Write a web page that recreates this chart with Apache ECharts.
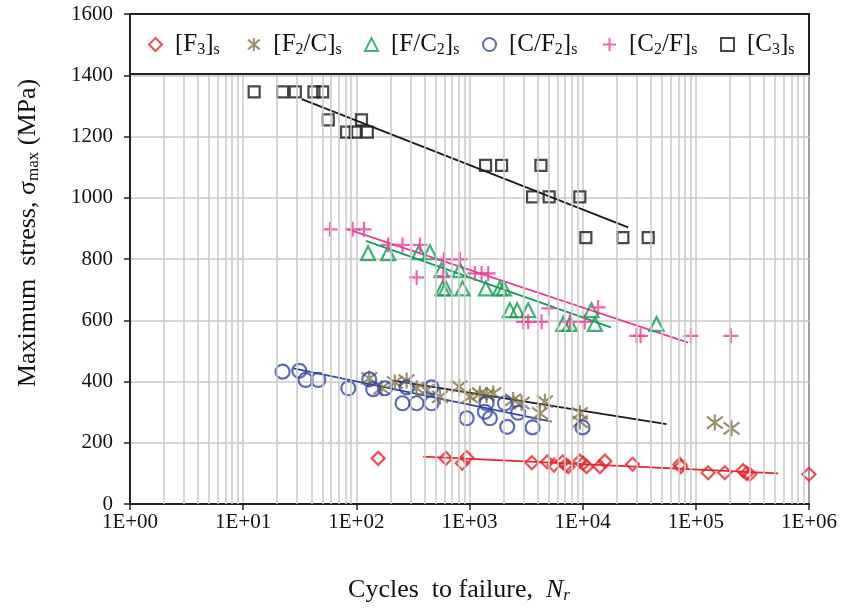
<!DOCTYPE html>
<html><head><meta charset="utf-8">
<script src="https://cdn.jsdelivr.net/npm/echarts@6/dist/echarts.min.js"></script>
<style>html,body{margin:0;padding:0;background:#fff}#c{width:842px;height:609px}</style>
</head><body><div id="c"></div>
<script>
const FONT = '"Liberation Serif","Times New Roman",serif';

const seriesNames = ['F3', 'F2/C', 'F/C2', 'C/F2', 'C2/F', 'C3'];
const legendLabels = ['[F{s|3}]{s|s}', '[F{s|2}/C]{s|s}', '[F/C{s|2}]{s|s}', '[C/F{s|2}]{s|s}', '[C{s|2}/F]{s|s}', '[C{s|3}]{s|s}'];
const xTickLabels = ['1E+00', '1E+01', '1E+02', '1E+03', '1E+04', '1E+05', '1E+06'];
const yTickValues = [0, 200, 400, 600, 800, 1000, 1200, 1400, 1600];

const dataF3 = [[156,149],[619,149],[863,133],[943,152],[3558,135],[4862,137],[5572,127],[6642,137],[7112,127],[7449,122],[9440,140],[10120,133],[10820,122],[14190,122],[15710,140],[27600,130],[72300,130],[73700,122],[128500,102],[180300,102],[262000,109],[280500,100],[300000,97],[1000000,97]];
const dataF2C = [[130,410],[167,378],[219,397],[278,403],[341,378],[417,372],[548,350],[811,383],[1009,350],[1236,360],[1416,356],[1622,361],[2432,340],[2884,329],[4188,296],[4637,334],[9440,296],[9440,269],[147200,266],[206600,247]];
const dataFC2 = [[127,819],[191,819],[359,822],[447,822],[566,764],[822,764],[578,704],[618,704],[868,704],[1395,704],[1857,704],[2014,704],[2274,633],[2637,633],[3300,633],[6725,588],[7711,588],[11970,633],[12820,588],[44950,588]];
const dataCF2 = [[22.3,432],[31.3,435],[35.6,405],[46.1,405],[84.9,378],[130,407],[141,375],[179,378],[256,329],[341,329],[462,329],[278,381],[462,381],[943,280],[1416,329],[1368,301],[1514,280],[2055,329],[2154,252],[2692,298],[3610,250],[9975,250]];
const dataC2F = [[58.5,897],[92.7,897],[117,897],[191,846],[256,846],[365,846],[341,740],[594,799],[822,799],[586,744],[1116,753],[1279,753],[1463,753],[3000,595],[3300,595],[4333,595],[5026,639],[7711,595],[10450,595],[13700,642],[30000,549],[32500,549],[90400,549],[203900,549]];
const dataC3 = [[12.5,1346],[22.3,1346],[28.9,1346],[42.2,1346],[50.4,1346],[56.5,1254],[111,1254],[82,1214],[97.8,1214],[125,1214],[1387,1106],[1922,1106],[4277,1106],[3607,1003],[5058,1003],[9440,1003],[10670,870],[22650,870],[37940,870]];

const trendF3 = [[390,155],[533000,100]];
const trendF2C = [[212,403],[55080,261]];
const trendFC2 = [[121.6,859],[17740,577]];
const trendCF2 = [[27.7,443],[5310,269]];
const trendC2F = [[79.3,900],[85500,527]];
const trendC3 = [[32.9,1322],[25230,903]];

const minorX = [];
for (let k = 0; k < 6; k++) for (let m = 2; m <= 9; m++) minorX.push(m * Math.pow(10, k));

const colors = ['#e8262b', '#857546', '#0fa055', '#3447a5', '#ec3f96', '#1a1a1a'];
const trendColors = ['#e8262b', '#1a1a1a', '#0fa055', '#3447a5', '#ec3f96', '#1a1a1a'];
const symbols = ['diamond', 'path://M0,-1L0,1M-0.9,-0.75L0.9,0.75M-0.9,0.75L0.9,-0.75', 'triangle', 'circle', 'path://M0,-1L0,1M-1,0L1,0', 'rect'];
const symbolSizes = [13, 16, 14, 14, 15, 11];
const pointData = [dataF3, dataF2C, dataFC2, dataCF2, dataC2F, dataC3];
const trendData = [trendF3, trendF2C, trendFC2, trendCF2, trendC2F, trendC3];
const legendLefts = [148, 247, 364, 482, 602, 720];

const series = [{
  type: 'line', data: [], z: 1, silent: true,
  markLine: { silent: true, symbol: 'none', label: { show: false }, animation: false,
    lineStyle: { color: '#c8c8c8', width: 1.5, type: 'solid' },
    data: minorX.map(v => ({ xAxis: v })) }
}];
trendData.forEach((d, i) => series.push({
  name: 'trend' + i, type: 'line', data: d, showSymbol: false, z: 3, silent: true,
  lineStyle: { color: trendColors[i], width: 1.8 }
}));
pointData.forEach((d, i) => series.push({
  name: seriesNames[i], type: 'scatter', data: d, z: 4,
  symbol: symbols[i], symbolSize: symbolSizes[i],
  itemStyle: { color: 'rgba(0,0,0,0)', borderColor: colors[i], borderWidth: 2.2 }
}));

const legends = seriesNames.map((n, i) => ({
  data: [n], left: legendLefts[i], top: 32, z: 20, padding: 0,
  itemWidth: 13, itemHeight: 13, selectedMode: false,
  formatter: () => legendLabels[i],
  textStyle: { fontFamily: FONT, fontSize: 25, color: '#111', padding: [0, 0, 0, 8],
    rich: { s: { fontFamily: FONT, fontSize: 16, color: '#111', padding: [11, 0, 0, 0] } } }
}));

const chart = echarts.init(document.getElementById('c'));
chart.setOption({
  animation: false,
  backgroundColor: '#fff',
  grid: { left: 130, right: 33, top: 14, bottom: 105, show: true, borderColor: '#222', borderWidth: 2, backgroundColor: 'transparent' },
  legend: legends,
  xAxis: {
    type: 'log', logBase: 10, min: 1, max: 1000000, interval: 1,
    axisLine: { show: true, lineStyle: { color: '#222', width: 2 } },
    axisTick: { show: true, length: 6, lineStyle: { color: '#222', width: 1.5 } },
    axisLabel: { fontFamily: FONT, fontSize: 21, color: '#111', margin: 8,
      formatter: v => xTickLabels[Math.round(Math.log10(v))] },
    splitLine: { show: true, lineStyle: { color: '#c8c8c8', width: 1.5 } }
  },
  yAxis: {
    type: 'value', min: 0, max: 1600, interval: 200,
    axisLine: { show: true, lineStyle: { color: '#222', width: 2 } },
    axisTick: { show: true, length: 6, lineStyle: { color: '#222', width: 1.5 } },
    axisLabel: { fontFamily: FONT, fontSize: 21, color: '#111', margin: 17,
      formatter: v => String(yTickValues[Math.round(v / 200)]) },
    splitLine: { show: true, lineStyle: { color: '#c8c8c8', width: 1.5 } }
  },
  graphic: { elements: [
    { type: 'rect', z: 10, silent: true, shape: { x: 130, y: 14, width: 679, height: 60 },
      style: { fill: '#fff', stroke: '#222', lineWidth: 2 } },
    { type: 'text', z: 10, silent: true, x: 28, y: 233, rotation: Math.PI / 2,
      style: { text: 'Maximum  stress, σ{s|max} (MPa)', fontFamily: FONT, fontSize: 26, fill: '#111',
        align: 'center', verticalAlign: 'middle',
        rich: { s: { fontFamily: FONT, fontSize: 17, fill: '#111', padding: [12, 0, 0, 0] } } } },
    { type: 'text', z: 10, silent: true, x: 459, y: 590,
      style: { text: 'Cycles  to failure,  {i|N}{r|r}', fontFamily: FONT, fontSize: 26, fill: '#111',
        align: 'center', verticalAlign: 'middle',
        rich: { i: { fontFamily: FONT, fontSize: 26, fontStyle: 'italic', fill: '#111' },
                r: { fontFamily: FONT, fontSize: 17, fontStyle: 'italic', fill: '#111', padding: [12, 0, 0, 0] } } } }
  ] },
  series: series
});
</script></body></html>
